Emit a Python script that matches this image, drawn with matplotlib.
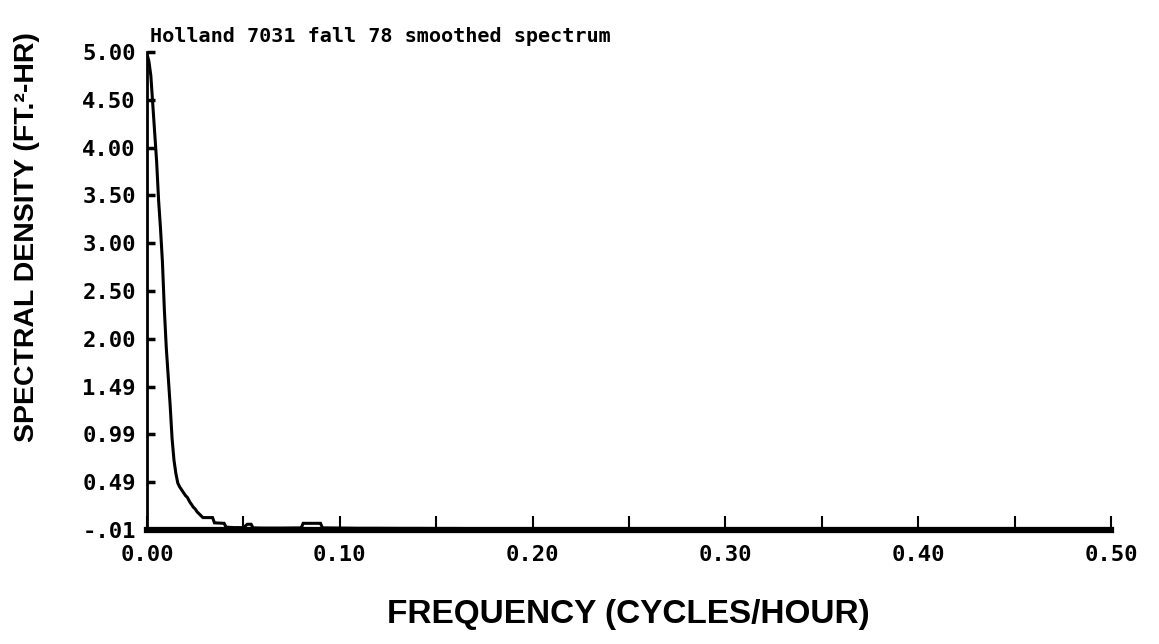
import numpy as np
import matplotlib.pyplot as plt

# smoothed spectrum
freq = [0.000, 0.001, 0.002, 0.003, 0.004, 0.005, 0.006, 0.007, 0.008, 0.009,
        0.010, 0.011, 0.012, 0.013, 0.014, 0.015, 0.016, 0.017, 0.018, 0.019,
        0.020, 0.021, 0.022, 0.023, 0.024, 0.025, 0.026, 0.027, 0.028, 0.029,
        0.034, 0.035, 0.040, 0.041, 0.045, 0.050, 0.052, 0.054, 0.055, 0.060,
        0.070, 0.080, 0.081, 0.090, 0.091, 0.100, 0.110, 0.120, 0.130, 0.140,
        0.150, 0.160, 0.170, 0.180, 0.190, 0.200, 0.220, 0.240, 0.260, 0.280,
        0.300, 0.320, 0.340, 0.360, 0.380, 0.400, 0.420, 0.440, 0.460, 0.480,
        0.500]
density = [4.98, 4.90, 4.75, 4.45, 4.15, 3.85, 3.45, 3.15, 2.80, 2.30,
           1.90, 1.60, 1.30, 0.95, 0.72, 0.58, 0.48, 0.44, 0.41, 0.38,
           0.35, 0.33, 0.29, 0.26, 0.23, 0.21, 0.18, 0.16, 0.14, 0.12,
           0.12, 0.065, 0.06, 0.02, 0.015, 0.015, 0.05, 0.05, 0.012, 0.01,
           0.01, 0.012, 0.06, 0.06, 0.012, 0.01, 0.008, 0.008, 0.007, 0.007,
           0.006, 0.006, 0.005, 0.005, 0.005, 0.004, 0.004, 0.004, 0.004, 0.003,
           0.003, 0.003, 0.003, 0.003, 0.003, 0.003, 0.003, 0.003, 0.003, 0.003,
           0.003]

xticks = [0.00, 0.05, 0.10, 0.15, 0.20, 0.25, 0.30, 0.35, 0.40, 0.45, 0.50]
xlabels = ['0.00', '', '0.10', '', '0.20', '', '0.30', '', '0.40', '', '0.50']
yticks = [-0.01, 0.491, 0.992, 1.493, 1.994, 2.495, 2.996, 3.497, 3.998, 4.499, 5.00]
ylabels = ['-.01', '0.49', '0.99', '1.49', '2.00', '2.50', '3.00', '3.50', '4.00', '4.50', '5.00']

mono = 'DejaVu Sans Mono'
sans = 'Liberation Sans'

fig = plt.figure(figsize=(11.59, 6.44), dpi=100)
ax = fig.add_axes([147 / 1159, 1 - 530 / 644, (1111 - 147) / 1159, (530 - 52) / 644])

ax.plot(freq, density, color='black', lw=2.2, solid_joinstyle='miter')

ax.set_xlim(0, 0.5)
ax.set_ylim(-0.01, 5.00)
ax.spines['top'].set_visible(False)
ax.spines['right'].set_visible(False)
ax.spines['left'].set_linewidth(2)
ax.spines['bottom'].set_linewidth(4.5)

ax.set_xticks(xticks)
ax.set_xticklabels(xlabels, fontfamily=mono, fontweight='bold', fontsize=16)
ax.set_yticks(yticks)
ax.set_yticklabels(ylabels, fontfamily=mono, fontweight='bold', fontsize=16)
ax.tick_params(axis='x', direction='in', length=10, width=1.5, pad=11)
ax.tick_params(axis='y', direction='in', length=6, width=2.5, pad=8)

fig.text(150 / 1159, 1 - 42 / 644, "Holland 7031 fall 78 smoothed spectrum",
         fontfamily=mono, fontweight='bold', fontsize=14.5, va='baseline', ha='left')
fig.text(628 / 1159, 1 - 614 / 644, "FREQUENCY (CYCLES/HOUR)",
         fontfamily=sans, fontweight='bold', fontsize=24, va='center', ha='center')
fig.text(27 / 1159, 1 - 237 / 644, "SPECTRAL DENSITY (FT.²-HR)",
         fontfamily=sans, fontweight='bold', fontsize=20.5, va='center', ha='center',
         rotation=90)

fig.savefig('out.png', dpi=100)
